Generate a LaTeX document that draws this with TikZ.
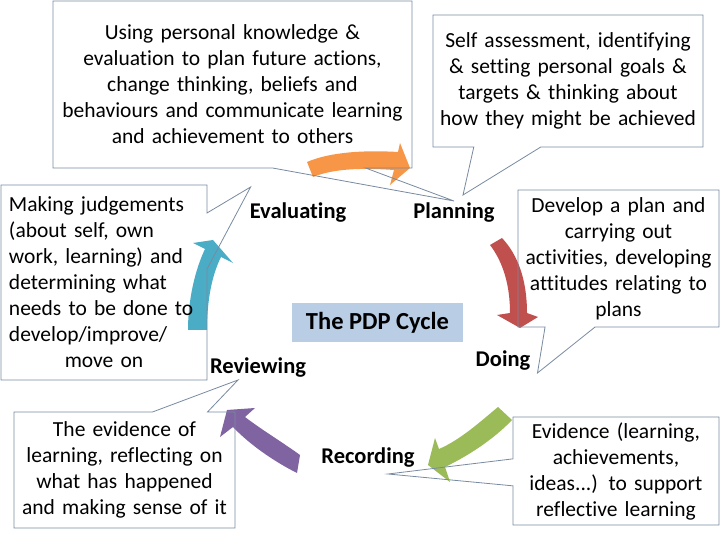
\documentclass[tikz,border=0pt]{standalone}
\usepackage{fontspec}
\setmainfont{Carlito}[Ligatures=NoCommon]
\usepackage{xcolor}
\definecolor{noteline}{RGB}{120,138,160}
\definecolor{pdpblue}{RGB}{185,205,229}
\definecolor{evalorange}{RGB}{247,150,70}
\definecolor{planred}{RGB}{192,80,77}
\definecolor{dogreen}{RGB}{155,187,89}
\definecolor{recpurple}{RGB}{128,100,162}
\definecolor{revteal}{RGB}{75,172,198}
\usetikzlibrary{shapes.callouts, calc}

\begin{document}
\begin{tikzpicture}[x=1pt, y=1pt,
    note/.style={rectangle callout, draw=noteline, line width=0.8pt, inner sep=2pt,
      align=center, font=\fontsize{21.5}{26}\selectfont},
    stage/.style={font=\fontsize{22.5}{26}\selectfont\bfseries, inner sep=2pt}
]
\useasboundingbox (0,0) rectangle (720,540);

% coloured arrows of the cycle
\fill[evalorange] (307,378) .. controls (330,388) and (365,390) .. (398,388)
  -- (400,397) -- (410,372) -- (390,355) -- (394,370)
  .. controls (365,372) and (335,372) .. (313,363) -- cycle;
\fill[planred] (490,295) .. controls (503,278) and (510,255) .. (510,227)
  -- (497,225) -- (520,212) -- (538,223) -- (527,227)
  .. controls (527,260) and (518,285) .. (502,302) -- cycle;
\fill[dogreen] (498,133) .. controls (480,118) and (460,100) .. (439,91)
  -- (435,102) -- (428,75) -- (450,58) -- (445,73)
  .. controls (470,85) and (495,102) .. (512,120) -- cycle;
\fill[recpurple] (300,85) .. controls (285,96) and (262,110) .. (245,123)
  -- (255,132) -- (227,130) -- (220,103) -- (233,113)
  .. controls (250,95) and (275,78) .. (297,67) -- cycle;
\fill[revteal] (188,210) .. controls (188,240) and (195,270) .. (205,291)
  -- (193,297) -- (213,300) -- (233,277) -- (221,283)
  .. controls (212,265) and (207,240) .. (207,210) -- cycle;

% stages
\node[stage] (evaluating) at (298,327) {Evaluating};
\node[stage] (planning) at (454,327) {Planning};
\node[stage] (doing) at (503,179) {Doing};
\node[stage] (recording) at (368,82) {Recording};
\node[stage] (reviewing) at (258,172) {Reviewing};
\node[stage, font=\fontsize{24.5}{28}\selectfont\bfseries, fill=pdpblue,
  minimum width=171pt, minimum height=39pt] (cycle) at (377.5,217.5) {The PDP Cycle};

% callouts
\node[note, minimum width=359pt, minimum height=167pt, text width=350pt,
  callout pointer width=93pt, callout absolute pointer={(planning.north)}] (evalnote) at (232.5,455.5)
  {Using personal knowledge \&\\evaluation to plan future actions,\\change thinking, beliefs and\\behaviours and communicate learning\\and achievement to others};
\node[note, minimum width=270pt, minimum height=132pt, text width=262pt,
  callout pointer width=67pt, callout absolute pointer={($(planning.north)+(9,6)$)}] (plannote) at (568,459)
  {Self assessment, identifying\\\& setting personal goals \&\\targets \& thinking about\\how they might be achieved};
\node[note, align=left, minimum width=206pt, minimum height=195pt, text width=190pt,
  callout pointer width=56pt, callout absolute pointer={($(evaluating.north west)+(3,14)$)}] (judgenote) at (104,257.5)
  {Making judgements\\(about self, own\\work, learning) and\\determining what\\needs to be done to\\develop/improve/\\\makebox[190pt]{move on}};
\node[note, minimum width=201pt, minimum height=137pt, text width=193pt,
  callout pointer width=50pt, callout absolute pointer={($(doing.south east)+(5,0)$)}] (donote) at (618.5,281.5)
  {Develop a plan and\\carrying out\\activities, developing\\attitudes relating to\\plans};
\node[note, minimum width=206pt, minimum height=108pt, text width=198pt,
  callout pointer width=27pt, callout absolute pointer={($(recording.south)+(20,-4)$)}] (recnote) at (616,69)
  {Evidence (learning,\\achievements,\\ideas...) to support\\reflective learning};
\node[note, minimum width=221pt, minimum height=116pt, text width=213pt,
  callout pointer width=55pt, callout absolute pointer={($(reviewing.south)+(-20,0)$)}] (revnote) at (124.5,70)
  {The evidence of\\learning, reflecting on\\what has happened\\and making sense of it};
\end{tikzpicture}
\end{document}
